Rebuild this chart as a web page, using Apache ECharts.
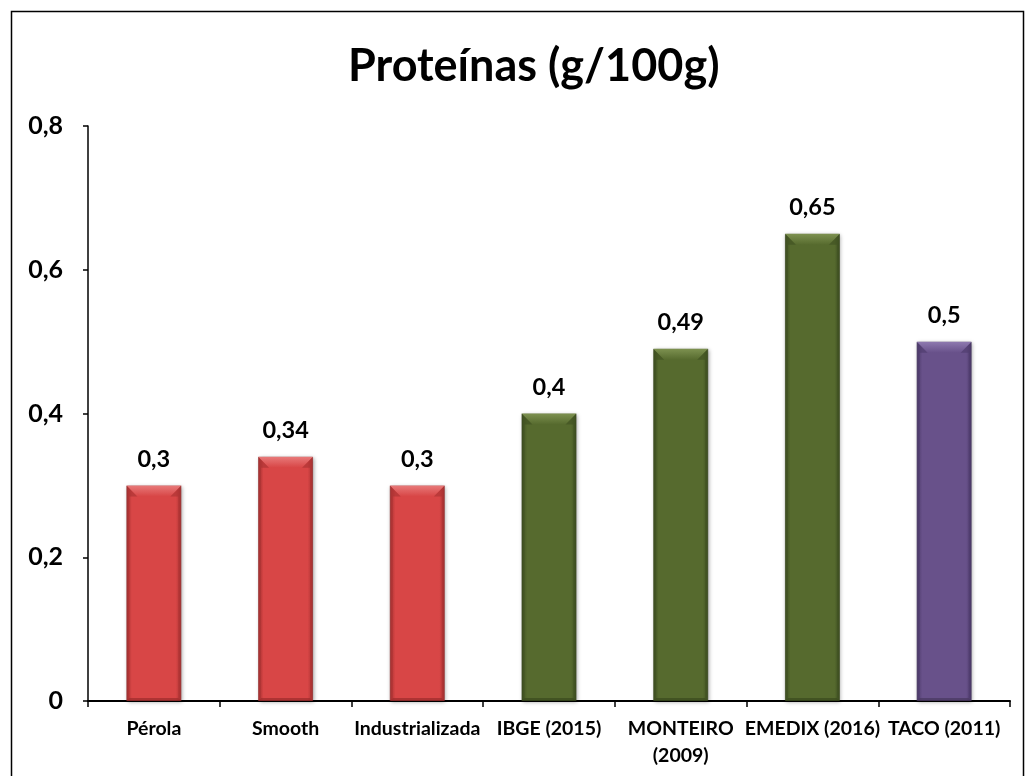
<!DOCTYPE html>
<html><head><meta charset="utf-8">
<script src="https://cdn.jsdelivr.net/npm/echarts@6/dist/echarts.min.js"></script>
<style>html,body{margin:0;padding:0;background:#fff}#c{width:1026px;height:776px}</style>
</head><body><div id="c"></div>
<script>
const categories = ['Pérola','Smooth','Industrializada','IBGE (2015)','MONTEIRO\n(2009)','EMEDIX (2016)','TACO (2011)'];
const values = [0.3, 0.34, 0.3, 0.4, 0.49, 0.65, 0.5];
const groups = ['red','red','red','green','green','green','purple'];
const yTicks = [0, 0.2, 0.4, 0.6, 0.8];

const palette = {
  red:    {edge:'#a83232', mid:'#d84646', light:'#e87a7a', dark:'#9c2c2c'},
  green:  {edge:'#3f5022', mid:'#566a2e', light:'#7d9150', dark:'#3a4a1e'},
  purple: {edge:'#4d3b6a', mid:'#68518a', light:'#8f7ab0', dark:'#48375f'}
};
function grad(g){
  const c = palette[g];
  return new echarts.graphic.LinearGradient(0,0,1,0,[
    {offset:0,color:c.edge},{offset:0.1,color:c.mid},{offset:0.9,color:c.mid},{offset:1,color:c.edge}
  ]);
}
const font = 'Lato, "Open Sans", sans-serif';
const BW = 55;
const chart = echarts.init(document.getElementById('c'));
chart.setOption({
  animation:false,
  title:{text:'Proteínas (g/100g)',left:343,top:39,
    textStyle:{fontFamily:font,fontWeight:'bold',fontSize:45,color:'#000'}},
  graphic:[{type:'rect',shape:{x:11.5,y:11.5,width:1012,height:770},
    style:{fill:'none',stroke:'#000',lineWidth:1.5},z:-1}],
  grid:{left:88,top:126,right:16,bottom:75},
  xAxis:{type:'category',data:categories,
    axisLine:{lineStyle:{color:'#000',width:2}},
    axisTick:{show:true,alignWithLabel:false,length:6,lineStyle:{color:'#000',width:1.5}},
    axisLabel:{interval:0,margin:14,fontFamily:font,fontWeight:'bold',fontSize:19.5,color:'#000',lineHeight:27}},
  yAxis:{type:'value',min:0,max:0.8,interval:0.2,
    axisLine:{show:true,lineStyle:{color:'#000',width:1.5}},
    axisTick:{show:true,length:5,lineStyle:{color:'#000',width:1.5}},
    splitLine:{show:false},
    axisLabel:{margin:25,fontFamily:font,fontWeight:'bold',fontSize:25,color:'#000',
      formatter:v=>{const t=yTicks.find(x=>Math.abs(x-v)<1e-9);return String(t!==undefined?t:v).replace('.',',');}}},
  series:[{type:'bar',barWidth:BW,
    data:values.map((v,i)=>({value:v,itemStyle:{color:grad(groups[i])}})),
    itemStyle:{borderColor:'rgba(0,0,0,0.2)',borderWidth:1,shadowColor:'rgba(0,0,0,0.35)',shadowBlur:4,shadowOffsetX:1,shadowOffsetY:1},
    label:{show:true,position:'top',distance:14,fontFamily:font,fontWeight:'bold',fontSize:23.5,color:'#000',
      formatter:p=>String(p.value).replace('.',',')}
  },{
    type:'custom',
    data:values.map((v,i)=>[i,v]),
    silent:true,
    z:3,
    renderItem:(params,api)=>{
      const top = api.coord([api.value(0),api.value(1)]);
      const base = api.coord([api.value(0),0]);
      const c = palette[groups[params.dataIndex]];
      const x0 = top[0]-BW/2, x1 = top[0]+BW/2, y0 = top[1], y1 = base[1];
      const b = 11, s = 3;
      return {type:'group',children:[
        {type:'polygon',shape:{points:[[x0,y0],[x1,y0],[x1-b,y0+b],[x0+b,y0+b]]},
          style:{fill:new echarts.graphic.LinearGradient(0,0,0,1,[{offset:0,color:c.light},{offset:1,color:c.mid}])}},
        {type:'polygon',shape:{points:[[x0,y0],[x0+b,y0+b],[x0+s,y0+b],[x0+s,y1-s],[x0,y1]]},
          style:{fill:c.edge,opacity:0.6}},
        {type:'polygon',shape:{points:[[x1,y0],[x1-b,y0+b],[x1-s,y0+b],[x1-s,y1-s],[x1,y1]]},
          style:{fill:c.edge,opacity:0.6}},
        {type:'polygon',shape:{points:[[x0,y1],[x0+s,y1-s],[x1-s,y1-s],[x1,y1]]},
          style:{fill:c.dark,opacity:0.7}}
      ]};
    }
  }]
});
</script></body></html>
